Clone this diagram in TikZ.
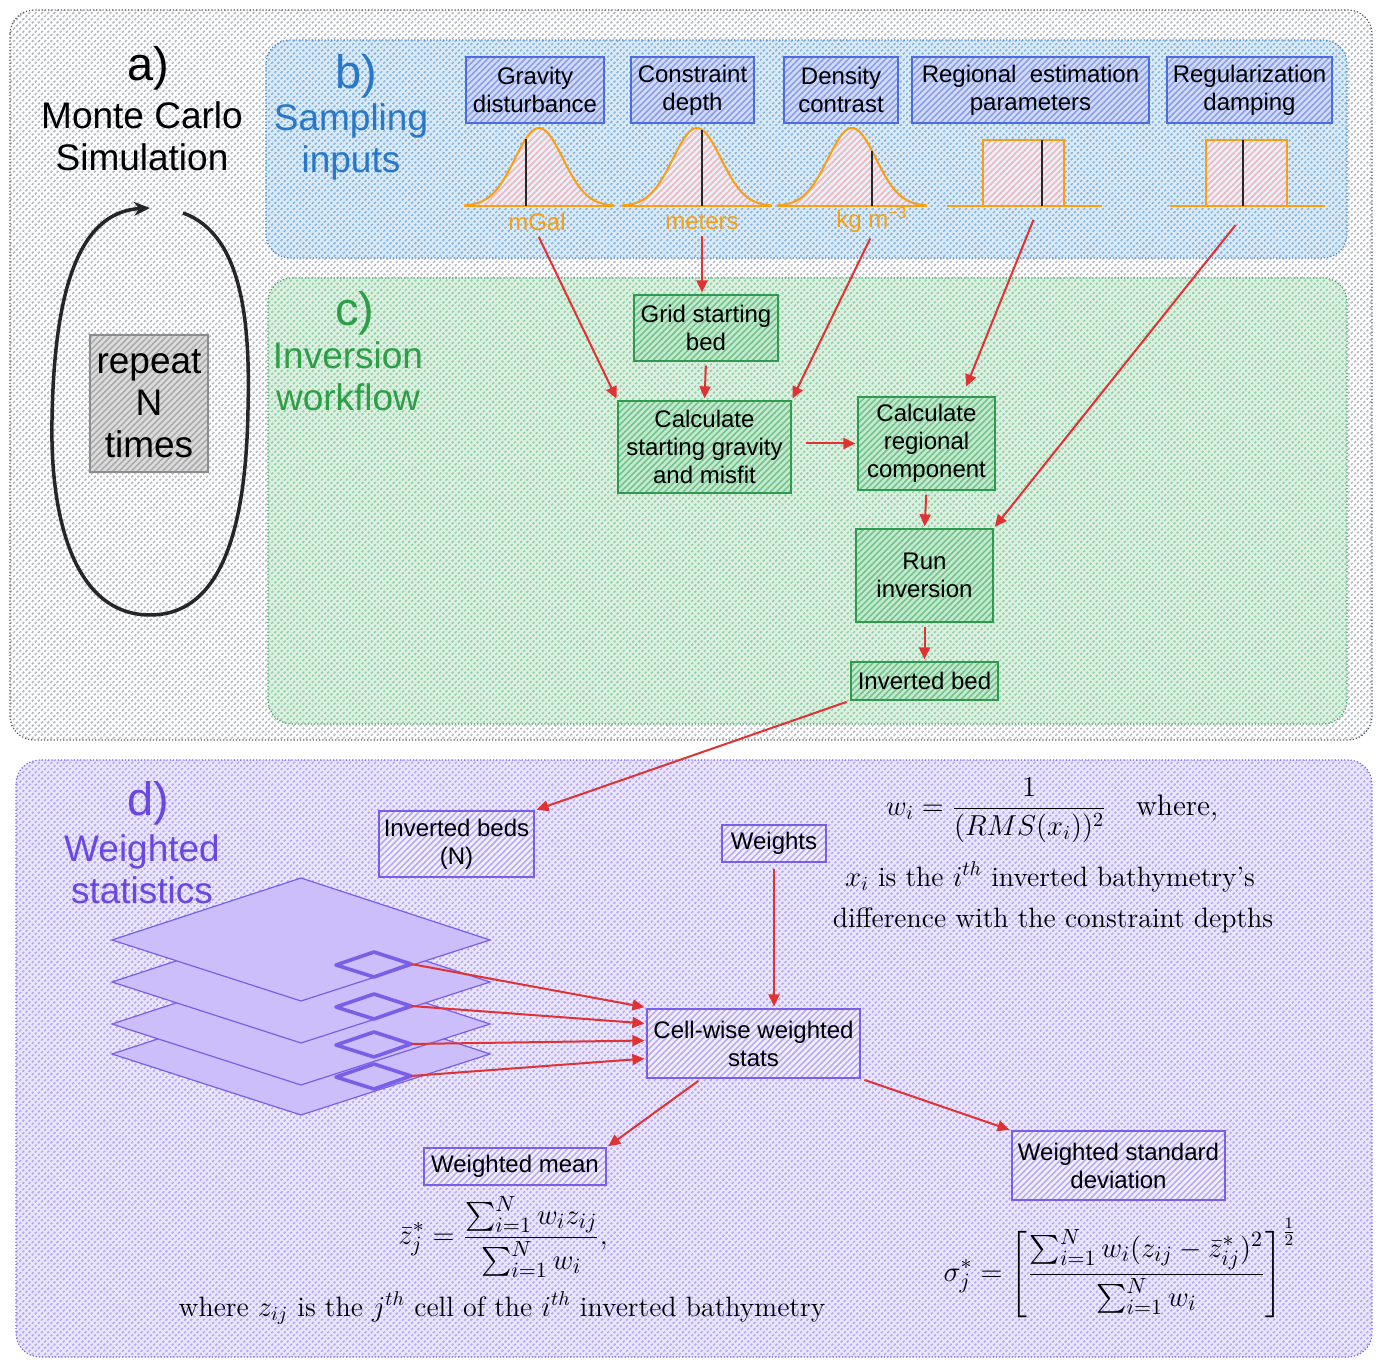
\documentclass[tikz,border=0pt]{standalone}
\usepackage{amsmath}
\usepackage{fontspec}
\setsansfont{Liberation Sans}
\usetikzlibrary{arrows.meta,patterns.meta,calc}
\definecolor{grayhatch}{HTML}{B0B4BC}
\definecolor{grayedge}{HTML}{555555}
\definecolor{bluebg}{HTML}{DCEAF6}
\definecolor{bluehatch}{HTML}{7DB2DE}
\definecolor{blueedge}{HTML}{3A87D0}
\definecolor{bluetext}{HTML}{2877C8}
\definecolor{boxblue}{HTML}{D3DBF8}
\definecolor{boxbluehatch}{HTML}{8A9FEB}
\definecolor{boxblueedge}{HTML}{4A6CE0}
\definecolor{greenbg}{HTML}{DDF0E2}
\definecolor{greenhatch}{HTML}{8CCFA2}
\definecolor{greenedge}{HTML}{3FA35C}
\definecolor{greentext}{HTML}{2E9E46}
\definecolor{boxgreen}{HTML}{C4EAD0}
\definecolor{boxgreenhatch}{HTML}{74C38D}
\definecolor{boxgreenedge}{HTML}{2F9A4E}
\definecolor{purplebg}{HTML}{EAE6FD}
\definecolor{purplehatch}{HTML}{B2A4F4}
\definecolor{purpleedge}{HTML}{7B5EE8}
\definecolor{purpletext}{HTML}{6A48DF}
\definecolor{layerfill}{HTML}{CBBEFA}
\definecolor{boxpurple}{HTML}{F2EFFE}
\definecolor{boxpurplehatch}{HTML}{B8AAF5}
\definecolor{distorange}{HTML}{F5A015}
\definecolor{distpink}{HTML}{F4B8BE}
\definecolor{arrowred}{HTML}{E03232}
\definecolor{repeatfill}{HTML}{DCDCDC}
\definecolor{repeathatch}{HTML}{ABABAB}
\definecolor{repeatedge}{HTML}{8C8C8C}
\tikzset{
  hatch/.style 2 args={preaction={fill=#1},pattern={Lines[angle=45,distance=2.2pt,line width=0.8pt]},pattern color=#2},
  region/.style={rounded corners=12pt,densely dotted,line width=0.6pt},
  tag/.style={font=\sffamily\fontsize{23.5}{26}\selectfont},
  headline/.style={font=\sffamily\fontsize{18.5}{21}\selectfont,align=center},
  boxtext/.style={font=\sffamily\fontsize{12}{14}\selectfont,align=center,inner sep=1pt,line width=0.6pt},
  inbox/.style={boxtext,draw=boxblueedge,hatch={boxblue}{boxbluehatch}},
  stepbox/.style={boxtext,draw=boxgreenedge,hatch={boxgreen}{boxgreenhatch}},
  statbox/.style={boxtext,draw=purpleedge,hatch={boxpurple}{boxpurplehatch}},
  unit/.style={font=\sffamily\fontsize{12}{14}\selectfont,text=distorange,inner sep=1pt},
  formula/.style={font=\fontsize{14}{21}\selectfont,inner sep=1pt},
  distline/.style={draw=distorange,line width=1pt},
  distfill/.style={preaction={fill=white,fill opacity=0.4},pattern={Lines[angle=45,distance=2.2pt,line width=0.8pt]},pattern color=distpink},
  meanline/.style={draw=black!85,line width=1pt},
  flow/.style={draw=arrowred,line width=1pt,-{Triangle[length=6pt,width=5.5pt]},shorten >=1pt,shorten <=2pt},
  layer/.style={draw=purpleedge,fill=layerfill,line width=0.6pt},
  cell/.style={draw=purpleedge,line width=1.8pt,line join=round}
}
\begin{document}
\begin{tikzpicture}[x=0.5pt,y=-0.5pt]
  \useasboundingbox (0,0) rectangle (1382,1368);

  % regions
  \draw[region,draw=grayedge,hatch={white}{grayhatch}] (10,10) rectangle (1372,740);
  \draw[region,draw=blueedge,hatch={bluebg}{bluehatch}] (266,40) rectangle (1347,258);
  \draw[region,draw=greenedge,hatch={greenbg}{greenhatch}] (268,278) rectangle (1347,724);
  \draw[region,draw=purpleedge,hatch={purplebg}{purplehatch}] (16,760) rectangle (1372,1357);

  % headings
  \node[tag] (taga) at (148,68) {a)};
  \node[headline] (mcsim) at (142,136) {Monte Carlo\\Simulation};
  \node[tag,text=bluetext] (tagb) at (356,76) {b)};
  \node[headline,text=bluetext] (sampling) at (351,142) {Sampling\\inputs};
  \node[tag,text=greentext] (tagc) at (355,313) {c)};
  \node[headline,text=greentext] (invflow) at (348,376) {Inversion\\workflow};
  \node[tag,text=purpletext] (tagd) at (148,803) {d)};
  \node[headline,text=purpletext] (wstats) at (142,869) {Weighted\\statistics};

  % monte carlo loop
  \node[boxtext,draw=repeatedge,hatch={repeatfill}{repeathatch},font=\sffamily\fontsize{18.5}{21}\selectfont,
        minimum width=59pt,minimum height=68.5pt] (repeat) at (149,403.5) {repeat\\N\\times};
  \draw[line width=1.75pt,black!85,-{Stealth[length=8pt,width=7pt]}]
    (183,213) .. controls (245,235) and (250,330) .. (248,410)
    .. controls (246,520) and (225,615) .. (150,615)
    .. controls (75,615) and (50,520) .. (52,420)
    .. controls (54,300) and (75,212) .. (150,208);

  % sampling inputs
  \node[inbox,minimum width=69pt,minimum height=33pt] (grav) at (535,90) {Gravity\\disturbance};
  \node[inbox,minimum width=61.5pt,minimum height=33pt] (cdepth) at (692.5,90) {Constraint\\depth};
  \node[inbox,minimum width=57pt,minimum height=33pt] (dens) at (841,90) {Density\\contrast};
  \node[inbox,minimum width=118.5pt,minimum height=33pt] (regest) at (1030.5,90) {Regional\ \ estimation\\parameters};
  \node[inbox,minimum width=82.5pt,minimum height=33pt] (regul) at (1249.5,90) {Regularization\\damping};

  \foreach \mu/\ln [evaluate=\mu as \lo using \mu-75, evaluate=\mu as \hi using \mu+75] in {539/526, 697/702, 852/872} {
    \fill[distfill] plot[domain=\lo:\hi,samples=60,smooth] (\x,{206-78*exp(-0.5*((\x-\mu)/24)*((\x-\mu)/24))}) -- cycle;
    \draw[distline] plot[domain=\lo:\hi,samples=60,smooth] (\x,{206-78*exp(-0.5*((\x-\mu)/24)*((\x-\mu)/24))});
    \draw[distline] (\lo,206) -- (\hi,206);
    \draw[meanline] (\ln,206) -- (\ln,{206-78*exp(-0.5*((\ln-\mu)/24)*((\ln-\mu)/24))});
  }
  \foreach \a/\b/\l/\r/\m in {947/1102/983/1064/1042, 1170/1325/1206/1287/1243} {
    \draw[distline,distfill] (\l,206) rectangle (\r,140);
    \draw[distline] (\a,206) -- (\b,206);
    \draw[meanline] (\m,206) -- (\m,140);
  }
  \node[unit] (mgal) at (537,222) {mGal};
  \node[unit] (meters) at (702,222) {meters};
  \node[unit] (kgm) at (872,220) {kg m\textsuperscript{−3}};
  \coordinate (regdist) at (1035,216);
  \coordinate (regudist) at (1238,222);

  % inversion workflow
  \node[stepbox,minimum width=72pt,minimum height=33pt] (gridbed) at (706,328) {Grid starting\\bed};
  \node[stepbox,minimum width=86.5pt,minimum height=46pt] (calcgrav) at (704.5,447) {Calculate\\starting gravity\\and misfit};
  \node[stepbox,minimum width=68.5pt,minimum height=46.5pt] (calcreg) at (926.5,443.5) {Calculate\\regional\\component};
  \node[stepbox,minimum width=68.5pt,minimum height=46.5pt] (runinv) at (924.5,575.5) {Run\\inversion};
  \node[stepbox,minimum width=73.5pt,minimum height=19pt] (invbed) at (924.5,681) {Inverted bed};

  \draw[flow] (mgal.south) -- (calcgrav.north west);
  \draw[flow] (meters.south) -- (meters.south |- gridbed.north);
  \draw[flow] (kgm.south) -- (calcgrav.north east);
  \draw[flow] (gridbed.south) -- (calcgrav.north);
  \draw[flow] (regdist) -- ([xshift=19.5pt,yshift=4pt]calcreg.north);
  \draw[flow] (regudist) -- (runinv.north east);
  \draw[flow,shorten <=7pt] (calcgrav.east |- calcreg.west) -- (calcreg.west);
  \draw[flow] (calcreg.south) -- (runinv.north);
  \draw[flow] (runinv.south) -- (invbed.north);

  % weighted statistics
  \node[statbox,minimum width=77.5pt,minimum height=33pt] (invbeds) at (456.5,844) {Inverted beds\\(N)};
  \node[statbox,minimum width=52pt,minimum height=18.5pt] (weights) at (774,843.5) {Weights};
  \node[statbox,minimum width=106.5pt,minimum height=34.5pt] (cellstats) at (753.5,1043.5) {Cell-wise weighted\\stats};
  \node[statbox,minimum width=91pt,minimum height=18.5pt] (wmean) at (515,1166.5) {Weighted mean};
  \node[statbox,minimum width=106.5pt,minimum height=34.5pt] (wstd) at (1118.5,1165.5) {Weighted standard\\deviation};

  \foreach \dy/\cy/\nm in {114/112/D, 84/80/C, 42/42/B, 0/0/A} {
    \draw[layer] (112,940+\dy) -- (301,878+\dy) -- (490,940+\dy) -- (301,1001+\dy) -- cycle;
    \draw[cell] (336,965+\cy) -- (374,952+\cy) -- (411,964+\cy) -- (374,977+\cy) -- cycle;
    \coordinate (cell\nm) at (411,964+\cy);
  }

  \node[formula,font=\fontsize{14.8}{21}\selectfont] (wform) at (1052,810) {$\displaystyle w_i = \frac{1}{(RMS(x_i))^2}$\quad where,};
  \node[formula] (wline) at (1050,877) {$x_i$ is the $i^{th}$ inverted bathymetry's};
  \node[formula] (wdiff) at (1053,920) {difference with the constraint depths};
  \node[formula,font=\fontsize{15}{21}\selectfont] (mform) at (503,1237) {$\displaystyle \bar{z}_j^* = \frac{\sum_{i=1}^N w_i z_{ij}}{\sum_{i=1}^N w_i},$};
  \node[formula] (mline) at (502,1308) {where $z_{ij}$ is the $j^{th}$ cell of the $i^{th}$ inverted bathymetry};
  \node[formula,font=\fontsize{15.6}{21}\selectfont] (sform) at (1120,1268) {$\displaystyle \sigma_j^* = \left[\frac{\sum_{i=1}^N w_i (z_{ij} - \bar{z}_{ij}^*)^2}{\sum_{i=1}^N w_i}\right]^{\frac{1}{2}}$};

  \draw[flow] (invbed.south west) -- (invbeds.north east);
  \draw[flow,shorten <=0pt] (cellA) -- ($(cellstats.west)+(0,-36)$);
  \draw[flow,shorten <=0pt] (cellB) -- ($(cellstats.west)+(0,-20)$);
  \draw[flow,shorten <=0pt] (cellC) -- ($(cellstats.west)+(0,-3)$);
  \draw[flow,shorten <=0pt] (cellD) -- ($(cellstats.west)+(0,15)$);
  \draw[flow,shorten <=3pt] (weights.south) -- (cellstats.north -| weights.south);
  \draw[flow] ([xshift=-26pt]cellstats.south) -- (wmean.north east);
  \draw[flow] (cellstats.south east) -- (wstd.north west);
\end{tikzpicture}
\end{document}
